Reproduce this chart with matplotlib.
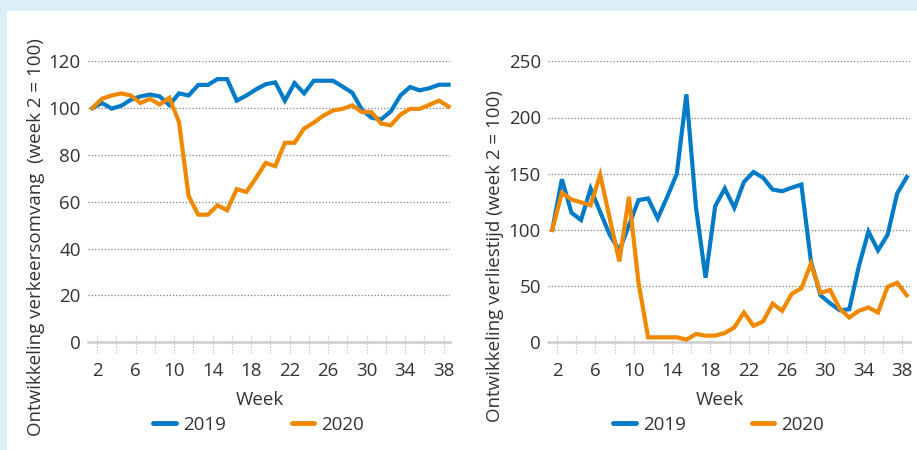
import matplotlib
matplotlib.use("Agg")
import matplotlib.pyplot as plt
from matplotlib.patches import Rectangle
from matplotlib.transforms import blended_transform_factory

# ---------------- data ----------------
weeks = list(range(2, 40))  # 38 weekly points, week 2 = 100

volume_2019 = [100, 102.2, 99.8, 101, 103.6, 105, 105.8, 105, 101.3, 106.3,
               105.4, 109.9, 109.9, 112.4, 112.4, 103.2, 105.4, 108, 110.2, 111,
               103.2, 110.7, 106.3, 111.7, 111.7, 111.7, 109.2, 106.6, 99.3, 95.9,
               95.2, 98.6, 105.4, 109, 107.6, 108.5, 110, 110]
volume_2020 = [100, 104, 105.4, 106.3, 105.4, 102.2, 104, 101.5, 104.4, 94.1,
               62.5, 54.5, 54.5, 58.5, 56.4, 65.4, 64.2, 70.2, 76.6, 75.2,
               85.2, 85.2, 91.3, 93.8, 96.8, 99, 99.7, 101.2, 98.3, 98.3,
               93.4, 92.7, 97.2, 99.7, 99.7, 101.4, 103.2, 100.7]

delay_2019 = [100, 145, 115.3, 108.8, 136.8, 116, 95.6, 81.8, 104, 126.5,
              128, 110.3, 129.4, 150, 220.6, 120, 57.4, 121, 136.8, 119.7,
              142.6, 151.5, 146.5, 135.9, 134.4, 137.6, 140.3, 72, 41.8, 34.7,
              28.5, 29.4, 67.6, 98.5, 81.8, 95.6, 132.4, 147]
delay_2020 = [100, 133, 127, 124.5, 122, 149, 110, 72, 129.5, 53,
              4.4, 4.4, 4.4, 4.4, 2.4, 7.4, 5.9, 5.9, 8.2, 13.2,
              26.5, 14.7, 18.5, 34.4, 28, 43.2, 48, 70, 44, 46.5,
              30, 22, 28, 31, 26.5, 49.4, 53, 41.8]

week_labels = [str(w) for w in range(2, 39, 4)]
series_names = ["2019", "2020"]
left_yticks = [0, 20, 40, 60, 80, 100, 120]
right_yticks = [0, 50, 100, 150, 200, 250]
left_ylabel = "Ontwikkeling verkeersomvang  (week 2 = 100)"
right_ylabel = "Ontwikkeling verliestijd (week 2 = 100)"
xlabel = "Week"

# ---------------- style ----------------
BLUE = "#007bc7"
ORANGE = "#f08800"
BG = "#dceef8"
TXT = "#333333"
FS = 13.5
plt.rcParams["font.family"] = ["Open Sans", "DejaVu Sans"]

W, H = 917, 450
fig = plt.figure(figsize=(W / 100, H / 100), dpi=100)
fig.patch.set_facecolor(BG)
fig.patches.append(Rectangle((7 / W, 0), 1 - 7 / W, 1 - 11 / H,
                             transform=fig.transFigure, facecolor="white",
                             edgecolor="none", zorder=-10))


def make_panel(left_px, s19, s20, yticks, ylab, ylab_x, ylab_y, xr_extra):
    bottom_px, top_px = 342.3, 61.3
    ax = fig.add_axes([left_px / W, 1 - bottom_px / H, 362.3 / W,
                       (bottom_px - top_px) / H])
    ax.set_facecolor("none")
    for s in ax.spines.values():
        s.set_visible(False)
    ax.set_ylim(0, yticks[-1])
    ax.set_xlim(weeks[0] - 0.48, weeks[0] + 37.15 + xr_extra)
    # grid lines
    for yv in yticks[1:]:
        ax.axhline(yv, color="#808080", lw=0.9, ls=(0, (1, 1.6)), zorder=1)
    ax.axhline(0, color="#cccccc", lw=1.8, zorder=1, clip_on=False)
    # minor dotted tick marks
    minor = [w + 0.5 for w in range(2, 39, 2)]
    tr = blended_transform_factory(ax.transData, ax.transAxes)
    ax.vlines(minor, -0.039, 0.026, transform=tr, colors="#b8b8b8",
              linestyles=(0, (1, 1.5)), lw=0.8, clip_on=False, zorder=1)
    l1, = ax.plot(weeks, s19, color=BLUE, lw=3, solid_joinstyle="miter",
                  clip_on=False, zorder=3)
    l2, = ax.plot(weeks, s20, color=ORANGE, lw=3, solid_joinstyle="miter",
                  clip_on=False, zorder=4)
    ax.set_xticks([int(l) + 0.5 for l in week_labels], week_labels)
    ax.set_yticks(yticks)
    ax.tick_params(axis="x", length=0, pad=14, labelsize=FS, labelcolor=TXT)
    ax.tick_params(axis="y", length=0, pad=5, labelsize=FS, labelcolor=TXT)
    cx = left_px + 172
    fig.text(cx / W, 1 - 400 / H, xlabel, ha="center", va="center",
             fontsize=FS, color=TXT)
    fig.text(ylab_x / W, 1 - ylab_y / H, ylab, ha="center", va="center",
             rotation=90, fontsize=FS, color=TXT)
    leg = fig.legend([l1, l2], series_names, loc="center",
                     bbox_to_anchor=((cx - 1) / W, 1 - 425 / H), ncol=2,
                     frameon=False, fontsize=FS, handlelength=1.2,
                     handletextpad=0.4, columnspacing=3.5,
                     labelcolor=TXT)
    for h in leg.legend_handles:
        h.set_linewidth(3.5)
        h.set_solid_capstyle("round")
    return ax


make_panel(87.7, volume_2019, volume_2020, left_yticks, left_ylabel,
           36, 237, 0.0)
make_panel(547.7, delay_2019, delay_2020, right_yticks, right_ylabel,
           495, 256, 0.19)

fig.savefig("out.png", dpi=100, facecolor=fig.get_facecolor())
